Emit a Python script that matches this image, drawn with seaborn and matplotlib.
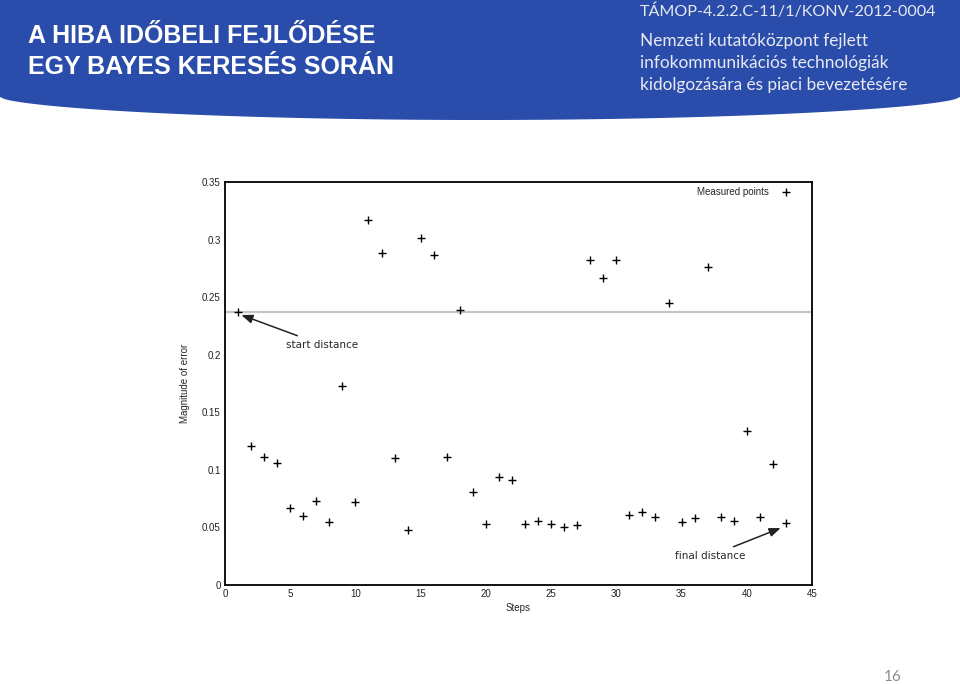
import numpy as np
import pandas as pd
import matplotlib
matplotlib.use("Agg")
import matplotlib.pyplot as plt
import seaborn as sns
from matplotlib.patches import Polygon

steps = list(range(1, 44))
errors = [0.237, 0.121, 0.111, 0.106, 0.067, 0.060, 0.073, 0.055, 0.173, 0.072,
          0.317, 0.288, 0.110, 0.048, 0.301, 0.287, 0.111, 0.239, 0.081, 0.053,
          0.094, 0.091, 0.053, 0.056, 0.053, 0.050, 0.052, 0.282, 0.267, 0.282,
          0.061, 0.063, 0.059, 0.245, 0.055, 0.058, 0.276, 0.059, 0.056, 0.134,
          0.059, 0.105, 0.054]
x_ticks = [0, 5, 10, 15, 20, 25, 30, 35, 40, 45]
y_ticks = [0, 0.05, 0.1, 0.15, 0.2, 0.25, 0.3, 0.35]
y_tick_labels = ["0", "0.05", "0.1", "0.15", "0.2", "0.25", "0.3", "0.35"]

df = pd.DataFrame({"Steps": steps, "Error": errors})

sns.set_style("white")
plt.rcParams['font.family'] = ['Liberation Sans', 'DejaVu Sans']

fig = plt.figure(figsize=(9.6, 6.84), dpi=100)

# header band
W, H = 960, 684
xs = np.linspace(0, W, 200)
ybot = 97 + 23 * (1 - ((xs - 480) / 480) ** 2) ** 0.6
pts = [(0, 1)] + [(x / W, 1 - y / H) for x, y in zip(xs, ybot)] + [(1, 1)]
fig.patches.append(Polygon(pts, closed=True, transform=fig.transFigure,
                           facecolor='#2A4CAA', edgecolor='none', zorder=0))

title_font = ['Liberation Sans', 'DejaVu Sans']
fig.text(28 / W, 1 - 36 / H, "A HIBA IDŐBELI FEJLŐDÉSE", color='white', fontsize=18,
         fontweight='bold', family=title_font, va='center', ha='left')
fig.text(28 / W, 1 - 67 / H, "EGY BAYES KERESÉS SORÁN", color='white', fontsize=18,
         fontweight='bold', family=title_font, va='center', ha='left')
sub_font = ['Lato', 'Open Sans', 'DejaVu Sans']
fig.text(640 / W, 1 - 11 / H, "TÁMOP-4.2.2.C-11/1/KONV-2012-0004", color='#E8EAF2',
         fontsize=11.6, family=sub_font, va='center', ha='left')
for yy, s in [(41, "Nemzeti kutatóközpont fejlett"),
              (63, "infokommunikációs technológiák"),
              (85, "kidolgozására és piaci bevezetésére")]:
    fig.text(640 / W, 1 - yy / H, s, color='#E8EAF2', fontsize=12.4, family=sub_font,
             va='center', ha='left')
fig.text(893 / W, 1 - 677 / H, "16", color='#8C8C8C', fontsize=11, family=sub_font,
         va='center', ha='center')

ax = fig.add_axes([225 / W, 1 - 585 / H, (812 - 225) / W, (585 - 182) / H])
ax.axhline(errors[0], color='#C4C4C4', lw=1.6, zorder=1)
sns.scatterplot(data=df, x="Steps", y="Error", marker='+', color='black', s=36,
                linewidth=1.0, ax=ax, label="Measured points", zorder=3)
ax.set_xlim(0, 45)
ax.set_ylim(0, 0.35)
ax.set_xticks(x_ticks)
ax.set_xticklabels([str(t) for t in x_ticks])
ax.set_yticks(y_ticks)
ax.set_yticklabels(y_tick_labels)
ax.tick_params(direction='in', length=3, width=1, labelsize=7, color='black',
               labelcolor='#222222', pad=3)
ax.set_xlabel("Steps", fontsize=7, labelpad=3)
ax.set_ylabel("Magnitude of error", fontsize=7, labelpad=9)
for sp in ax.spines.values():
    sp.set_color('black')
    sp.set_linewidth(1.3)

leg = ax.legend(loc='upper right', frameon=False, markerfirst=False, fontsize=7,
                handletextpad=1.0, handlelength=1.5, borderaxespad=0.4,
                bbox_to_anchor=(0.982, 1.008))

ax.annotate("start distance", xy=(1.25, 0.2345), xytext=(4.7, 0.2085),
            fontsize=7.5, va='center', ha='left', family=['DejaVu Sans'],
            arrowprops=dict(arrowstyle='-|>,head_length=0.9,head_width=0.35',
                            color='#222222', lw=1.1, shrinkA=2, shrinkB=0))
ax.annotate("final distance", xy=(42.6, 0.0495), xytext=(34.5, 0.0252),
            fontsize=7.5, va='center', ha='left', family=['DejaVu Sans'],
            arrowprops=dict(arrowstyle='-|>,head_length=0.9,head_width=0.35',
                            color='#222222', lw=1.1, shrinkA=2, shrinkB=0))

fig.savefig("out.png", dpi=100)
